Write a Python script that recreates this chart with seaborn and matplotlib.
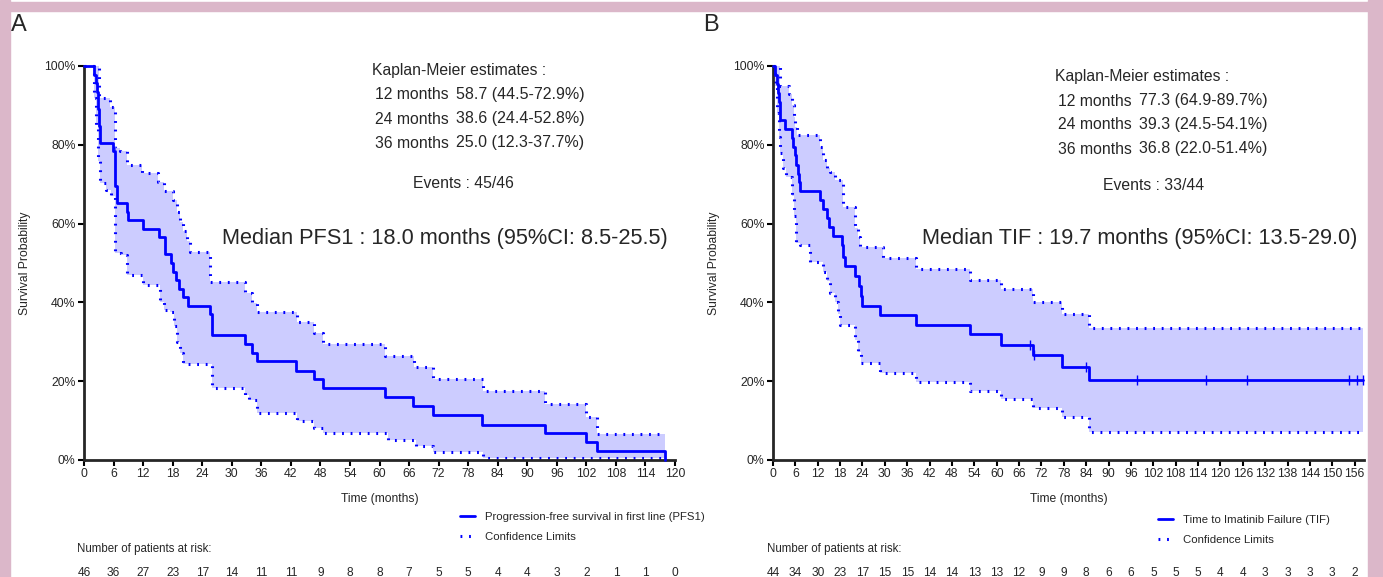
import numpy as np
import pandas as pd
import matplotlib
matplotlib.use('Agg')
import matplotlib.pyplot as plt
import seaborn as sns
from matplotlib.lines import Line2D
from matplotlib.patches import Rectangle

sns.set_style('ticks')
plt.rcParams['font.family'] = ['Liberation Sans', 'DejaVu Sans']

# ---- panel A: PFS1 ----
pfs_t = [0, 2.1, 2.4, 2.6, 2.8, 2.9, 3.0, 3.1, 3.2, 5.8, 6.3, 6.6, 8.7, 8.9, 11.9, 15.3, 16.4,
         17.6, 18.0, 18.6, 19.2, 20.2, 21.2, 25.6, 25.9, 32.7, 34.1, 35.2, 43.0, 46.6, 48.5,
         61.1, 66.9, 70.9, 80.9, 93.6, 101.9, 104.1, 117.9]
pfs_s = [100, 97.8, 95.7, 93.5, 91.3, 89.1, 87.0, 84.8, 80.4, 78.3, 69.6, 65.2, 63.0, 60.9, 58.7, 56.5, 52.2,
         50.0, 47.8, 45.7, 43.5, 41.3, 39.1, 37.0, 31.7, 29.4, 27.2, 25.1, 22.7, 20.6, 18.2,
         15.9, 13.7, 11.4, 9.0, 6.8, 4.5, 2.2, 0]
pfs_up_t = [0, 3.1, 5.2, 6.3, 7.3, 8.7, 11.7, 15.1, 16.2, 18.1, 18.8, 19.5, 20.2, 20.9, 21.6, 25.6,
            32.7, 34.1, 35.2, 43.2, 46.6, 48.5, 61.1, 67.0, 70.9, 81.0, 93.6, 102.0, 104.1, 117.9]
pfs_up_s = [100, 91.8, 89.7, 79.1, 78.3, 74.9, 72.9, 70.5, 68.3, 66.0, 63.0, 60.5, 58.0, 55.5, 52.9, 45.3,
            42.3, 39.8, 37.5, 35.1, 32.3, 29.4, 26.5, 23.7, 20.6, 17.5, 14.2, 11.0, 6.6, 6.6]
pfs_lo_t = [0, 2.1, 2.5, 2.9, 3.2, 4.5, 5.5, 6.3, 7.5, 8.7, 11.9, 15.5, 16.2, 17.5, 18.2, 18.8, 19.5,
            20.2, 25.9, 32.7, 33.5, 35.2, 43.2, 46.6, 48.5, 61.7, 67.5, 70.9, 81.0, 117.9]
pfs_lo_s = [100, 92, 85, 76, 70.2, 68.5, 67.0, 52.5, 52.0, 47.0, 44.4, 40.0, 38.1, 37.5, 34.0, 30.0, 27.1,
            24.4, 18.2, 16.5, 15.2, 12.0, 9.9, 8.0, 6.8, 5.1, 3.6, 2.0, 0.4, 0.4]
pfs_risk = [46, 36, 27, 23, 17, 14, 11, 11, 9, 8, 8, 7, 5, 5, 4, 4, 3, 2, 1, 1, 0]

# ---- panel B: TIF ----
tif_t = [0, 0.6, 1.0, 1.3, 1.6, 1.8, 1.9, 3.2, 5.0, 5.4, 5.9, 6.3, 6.6, 6.9, 7.2, 12.6, 13.5, 14.4,
         15.0, 16.2, 18.4, 18.7, 19.3, 22.0, 23.1, 23.5, 23.8, 28.7, 38.3, 52.8, 61.1, 69.8, 77.4,
         84.8, 158.2]
tif_s = [100, 97.7, 95.5, 93.2, 90.9, 88.6, 86.4, 84.1, 81.8, 79.5, 77.3, 75.0, 72.7, 70.5, 68.2, 65.9, 63.6, 61.4,
         59.1, 56.8, 54.5, 51.6, 49.2, 46.7, 44.2, 41.5, 39.1, 36.8, 34.3, 32.0, 29.2, 26.6, 23.7,
         20.3, 20.3]
tif_cens_t = [68.9, 70.0, 84.0, 97.5, 116.0, 127.2, 154.5, 156.7, 158.2]
tif_cens_s = [29.2, 26.6, 23.7, 20.3, 20.3, 20.3, 20.3, 20.3, 20.3]
tif_up_t = [0, 2.0, 4.4, 5.0, 5.5, 6.0, 6.5, 12.6, 13.5, 14.4, 15.3, 16.6, 18.7, 22.0, 22.7, 23.4,
            29.6, 38.3, 52.8, 61.1, 69.6, 77.4, 84.8, 158.2]
tif_up_s = [100, 94.8, 93.0, 90.0, 87.0, 84.5, 82.5, 79.5, 76.1, 74.0, 73.2, 71.1, 64.3, 59.0, 56.5, 54.1,
            51.2, 48.6, 45.8, 43.3, 40.2, 37.1, 33.4, 33.4]
tif_lo_t = [0, 0.5, 1.0, 1.5, 1.9, 2.7, 3.5, 5.0, 5.5, 6.3, 7.2, 10.0, 13.5, 14.4, 15.3, 16.5, 17.5,
            18.0, 22.0, 22.7, 23.5, 28.7, 38.3, 52.8, 61.1, 69.6, 77.4, 84.8, 158.2]
tif_lo_s = [100, 95, 88, 82, 77.8, 74.0, 71.9, 67.0, 62.0, 55.0, 54.6, 50.3, 47.8, 45.5, 42.4, 40.0, 37.0,
            34.3, 30.5, 27.5, 24.5, 22.1, 19.9, 17.6, 15.4, 13.2, 10.8, 7.2, 7.2]
tif_risk = [44, 34, 30, 23, 17, 15, 15, 14, 14, 13, 13, 12, 9, 9, 8, 6, 6, 5, 5, 5, 4, 4, 3, 3, 3, 3, 2]

W, H = 1383, 577
BLUE = '#0000ff'
FILL = '#ccccff'
DOT = (0, (0.6, 2.2))


def fx(x):
    return x / W


def fy(y):
    return 1 - y / H


def step_on(grid, t, s):
    idx = np.searchsorted(t, grid, side='right') - 1
    return np.asarray(s)[idx]


def km_panel(ax, t, s, ut, us, lt, ls, xmax):
    grid = np.union1d(ut, lt)
    ax.fill_between(grid, step_on(grid, ut, us), step_on(grid, lt, ls),
                    step='post', color=FILL, lw=0, zorder=1)
    for tt, ss in [(ut, us), (lt, ls)]:
        sns.lineplot(x=tt, y=ss, drawstyle='steps-post', color=BLUE, lw=2.2,
                     linestyle=DOT, ax=ax, estimator=None, zorder=2, clip_on=False)
    sns.lineplot(x=t, y=s, drawstyle='steps-post', color=BLUE, lw=2,
                 ax=ax, estimator=None, zorder=3, clip_on=False)
    ax.set_xlim(0, xmax)
    ax.set_ylim(0, 100)
    ax.set_xticks(np.arange(0, xmax + 0.1, 6))
    ax.set_yticks([0, 20, 40, 60, 80, 100])
    ax.set_yticklabels([f'{v}%' for v in [0, 20, 40, 60, 80, 100]])
    ax.tick_params(direction='out', length=4, width=1.5, labelsize=8.8, pad=2, color='black')
    for sp in ['left', 'bottom']:
        ax.spines[sp].set_linewidth(2)
    sns.despine(ax=ax)
    ax.set_xlabel('Time (months)', fontsize=8.7)
    ax.set_ylabel('Survival Probability', fontsize=8.7)
    ax.xaxis.set_label_coords(0.5, -0.083)
    ax.yaxis.set_label_coords(-0.09, 0.5)


fig = plt.figure(figsize=(W / 100, H / 100), dpi=100)
axA = fig.add_axes([fx(84), fy(460), fx(675 - 84), (460 - 66) / H])
axB = fig.add_axes([fx(773), fy(460), fx(1364 - 773), (460 - 66) / H])

km_panel(axA, pfs_t, pfs_s, pfs_up_t, pfs_up_s, pfs_lo_t, pfs_lo_s, 120)
km_panel(axB, tif_t, tif_s, tif_up_t, tif_up_s, tif_lo_t, tif_lo_s, 158.5)
sns.scatterplot(x=tif_cens_t, y=tif_cens_s, marker='|', s=60, color=BLUE, linewidth=1,
                ax=axB, zorder=4, clip_on=False)

# panel letters
fig.text(fx(11), fy(25), 'A', fontsize=17, va='center')
fig.text(fx(703), fy(25), 'B', fontsize=17, va='center')

# KM estimate tables
blocks = [
    (372, 70, 413, 184, 222, 'Events : 45/46',
     [('12 months', '58.7 (44.5-72.9%)'), ('24 months', '38.6 (24.4-52.8%)'), ('36 months', '25.0 (12.3-37.7%)')],
     'Median PFS1 : 18.0 months (95%CI: 8.5-25.5)'),
    (1055, 76, 1103, 185, 922, 'Events : 33/44',
     [('12 months', '77.3 (64.9-89.7%)'), ('24 months', '39.3 (24.5-54.1%)'), ('36 months', '36.8 (22.0-51.4%)')],
     'Median TIF : 19.7 months (95%CI: 13.5-29.0)'),
]
for kx, ky, ex, ey, mx, ev, rows, med in blocks:
    fig.text(fx(kx), fy(ky), 'Kaplan-Meier estimates :', fontsize=11.3, va='center')
    for i, (a, b) in enumerate(rows):
        yy = ky + 25 + 24 * i
        fig.text(fx(kx + 3), fy(yy), a, fontsize=11.3, va='center')
        fig.text(fx(kx + 84), fy(yy), b, fontsize=11.5, va='center')
    fig.text(fx(ex), fy(ey), ev, fontsize=11.3, va='center')
    fig.text(fx(mx), fy(238), med, fontsize=15.7, va='center')

# legends
for lx, ly, lab in [(460, 512, 'Progression-free survival in first line (PFS1)'),
                    (1158, 515, 'Time to Imatinib Failure (TIF)')]:
    handles = [Line2D([], [], color=BLUE, lw=2),
               Line2D([], [], color=BLUE, lw=2.2, linestyle=DOT)]
    fig.legend(handles, [lab, 'Confidence Limits'], loc='upper left',
               bbox_to_anchor=(fx(lx), fy(ly)), frameon=False, fontsize=8.2,
               handlelength=1.3, handletextpad=0.9, labelspacing=0.85, borderpad=0,
               borderaxespad=0)

# numbers at risk
for ax, risk, nx in [(axA, pfs_risk, 77), (axB, tif_risk, 767)]:
    fig.text(fx(nx), fy(549), 'Number of patients at risk:', fontsize=8.3, va='center')
    tr = matplotlib.transforms.blended_transform_factory(ax.transData, fig.transFigure)
    for i, n in enumerate(risk):
        ax.text(6 * i, fy(567), str(n), transform=tr, fontsize=8.6, ha='center', va='top', clip_on=False)

# pink frame
pink = '#dbb7c9'
for (x0, y0, w, h) in [(0, 2, W, 9), (0, 0, 10, H), (1368, 0, W - 1368, H)]:
    fig.patches.append(Rectangle((fx(x0), fy(y0 + h)), fx(w), h / H, transform=fig.transFigure,
                                 color=pink, zorder=0))

fig.savefig('out.png', dpi=100)
